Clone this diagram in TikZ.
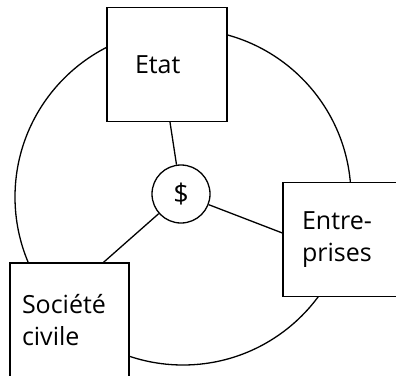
\documentclass[tikz,border=0pt]{standalone}
\usepackage{fontspec}
\setmainfont{Open Sans}
\begin{document}
\begin{tikzpicture}[x=1pt, y=-1pt,
            boite/.style={rectangle, draw, fill=white, line width=1.3pt, align=left, minimum height=114pt, inner ysep=0pt, font=\fontsize{25}{32}\selectfont},
            rond/.style={circle, draw, fill=white, line width=1.3pt, minimum size=58pt, inner sep=0pt, font=\fontsize{27}{30}\selectfont},
        ]
            \useasboundingbox (0,0) rectangle (396,375);
            \clip (0,0) rectangle (396,375);
            \draw[line width=1.3pt] (183,197) circle[radius=168pt];
            \node[boite, text width=64pt, inner xsep=28pt](etatnode) at (167,64.5) {Etat};
            \node[boite, text width=92pt, inner xsep=19pt](entrenode) at (348,239.5) {Entre-\\prises};
            \node[boite, text width=95pt, inner xsep=12pt](societenode) at (69.5,320) {Société\\civile};
            \node[rond](dollarnode) at (181,194) {\$};
            \draw[line width=1.3pt] (dollarnode) -- ([xshift=3pt]etatnode.south);
            \draw[line width=1.3pt] (dollarnode) -- ([yshift=6.5pt]entrenode.west);
            \draw[line width=1.3pt] (dollarnode) -- ([xshift=34pt]societenode.north);
        \end{tikzpicture}
\end{document}
